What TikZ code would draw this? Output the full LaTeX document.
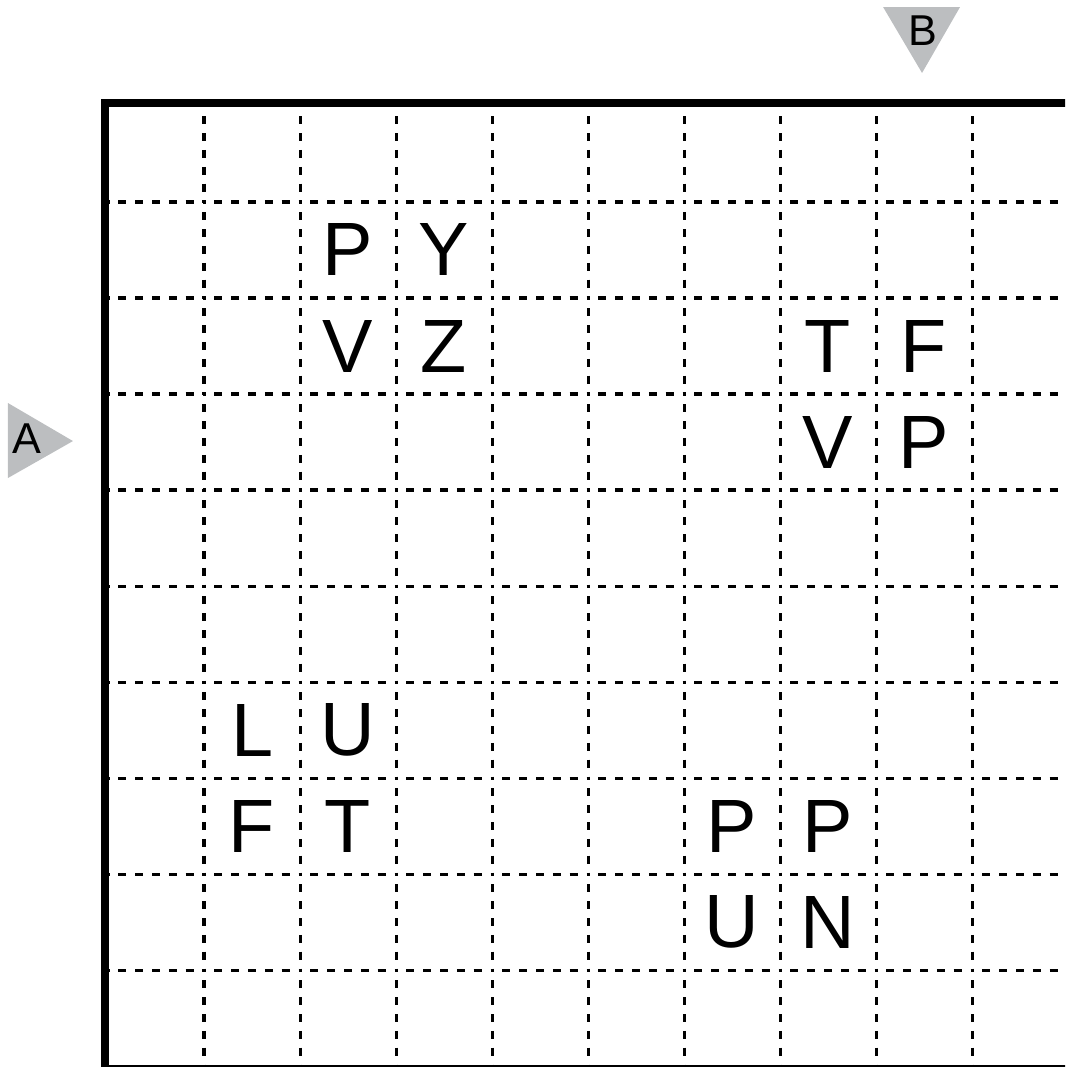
\documentclass[tikz,border=0pt]{standalone}
\usepackage{fontspec}
\setmainfont{Liberation Sans}
\definecolor{markgray}{RGB}{188,190,192}

\begin{document}
\begin{tikzpicture}[
		x = 1cm, y = 1cm, % one cell is 1cm
		gridline/.style = {line width=0.9pt, dash pattern=on 0.889pt off 2.618pt on 2.371pt off 2.618pt on 2.371pt off 2.618pt on 2.371pt off 2.618pt on 2.371pt off 2.618pt on 2.371pt off 2.618pt, dash phase=0.445pt},
		frame/.style = {line width=2.37pt, line cap=rect},
		cellletter/.style = {inner sep=0pt, font=\fontsize{22.4}{26}\selectfont},
		sideletter/.style = {inner sep=0pt, font=\fontsize{12.8}{15}\selectfont}
		]
		
		\useasboundingbox (-1.125,-10.01) rectangle (9.969,1.104);
		\clip (-1.125,-10.01) rectangle (9.969,1.104);
		
		% dashed grid
		\foreach \i in {1,...,9} {
			\draw[gridline] (0,-\i) -- (10,-\i);
		}
		\foreach \i in {1,...,10} {
			\draw[gridline] (\i,0) -- (\i,-10);
		}
		
		% border
		\draw[line width=0.8pt] (0,-10) -- (10,-10);
		\draw[frame] (-0.031,-10.1) -- (-0.031,0.031) -- (10.1,0.031);
		
		% side marks
		\coordinate (a1) at (-1.042,-3.094);
		\coordinate (a2) at (-1.042,-3.875);
		\coordinate (a3) at (-0.365,-3.490);
		\fill[markgray] (a1) -- (a2) -- (a3) -- cycle;
		\node[sideletter] (markA) at (-0.844,-3.469) {A};
		
		\coordinate (b1) at (8.073,1.031);
		\coordinate (b2) at (8.875,1.031);
		\coordinate (b3) at (8.479,0.344);
		\fill[markgray] (b1) -- (b2) -- (b3) -- cycle;
		\node[sideletter] (markB) at (8.49,0.786) {B};
		
		% letters in the cells (column/row/letter)
		\foreach \c/\r/\l in {3/2/P, 4/2/Y, 3/3/V, 4/3/Z, 8/3/T, 9/3/F, 8/4/V, 9/4/P,
			2/7/L, 3/7/U, 2/8/F, 3/8/T, 7/8/P, 8/8/P, 7/9/U, 8/9/N} {
			\node[cellletter] (cell-\c-\r) at (\c-0.5,0.5-\r) {\l};
		}
	\end{tikzpicture}
\end{document}
